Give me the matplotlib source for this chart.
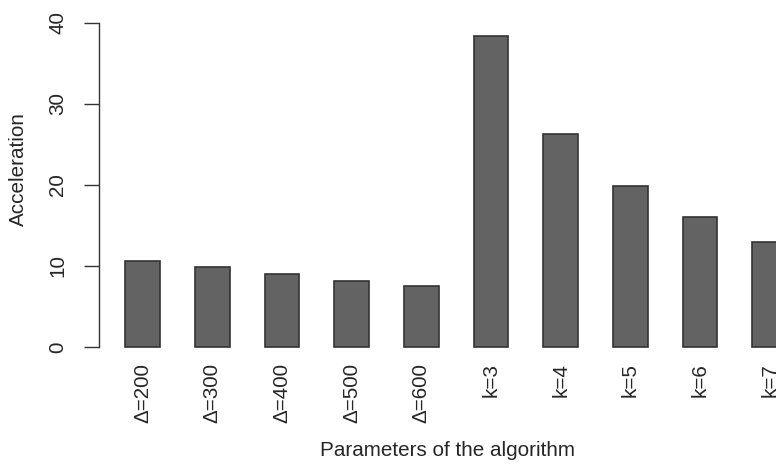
import matplotlib
matplotlib.use("Agg")
import matplotlib.pyplot as plt

categories = ["Δ=200", "Δ=300", "Δ=400", "Δ=500", "Δ=600",
              "k=3", "k=4", "k=5", "k=6", "k=7"]
acceleration = [10.6, 9.9, 9.0, 8.2, 7.55, 38.35, 26.3, 19.85, 16.05, 13.0]
yticks = [0, 10, 20, 30, 40]

plt.rcParams['font.family'] = ['Liberation Sans', 'DejaVu Sans']
TXT = "#262626"
FS = 14.9

fig = plt.figure(figsize=(7.76, 4.66), dpi=100)
ax = fig.add_axes([0.1272, 0.2275, 0.9213, 0.7517])

# R barplot layout: width 1, space 1
centers = [2 * (i + 1) - 0.5 for i in range(len(categories))]
ax.bar(centers, acceleration, width=1.0, color="#636363",
       edgecolor="#333333", linewidth=1.2)

ax.set_xlim(0.24, 20.76)
ax.set_ylim(-1.6, 41.6)

for s in ["top", "right", "bottom"]:
    ax.spines[s].set_visible(False)
ax.spines["left"].set_bounds(0, 40)
ax.spines["left"].set_color("#333333")
ax.spines["left"].set_linewidth(1.0)

ax.set_yticks(yticks)
ax.set_yticklabels([str(v) for v in yticks], rotation=90, va="center",
                   fontsize=FS, color=TXT)
ax.tick_params(axis="y", length=10.6, width=1.0, color="#333333", pad=12)

ax.set_xticks(centers)
ax.set_xticklabels(categories, rotation=90, fontsize=FS, color=TXT)
ax.tick_params(axis="x", length=0, pad=2)

fig.text(0.0232, 0.6363, "Acceleration", rotation=90, ha="center",
         va="center", fontsize=FS, color=TXT)
fig.text(0.5773, 0.0215, "Parameters of the algorithm", ha="center",
         va="baseline", fontsize=FS, color=TXT)

fig.savefig("out.png", dpi=100)
